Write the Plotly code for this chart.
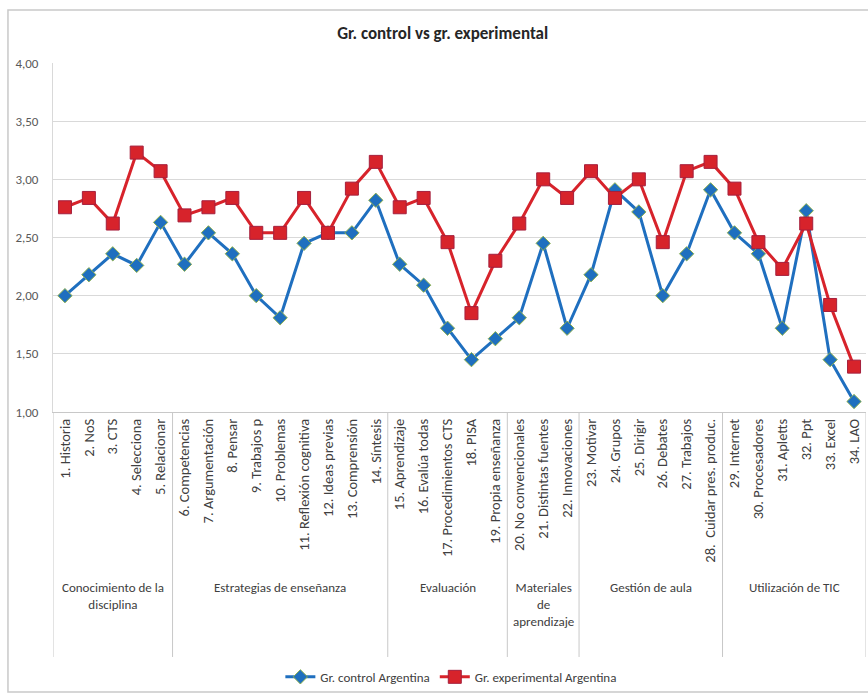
import plotly.graph_objects as go

labels = ["1. Historia", "2. NoS", "3. CTS", "4. Selecciona", "5. Relacionar",
          "6. Competencias", "7. Argumentación", "8. Pensar", "9. Trabajos p", "10. Problemas",
          "11. Reflexión cognitiva", "12. Ideas previas", "13. Comprensión", "14. Síntesis",
          "15. Aprendizaje", "16. Evalúa todas", "17. Procedimientos CTS", "18. PISA",
          "19. Propia enseñanza", "20. No convencionales", "21. Distintas fuentes",
          "22. Innovaciones", "23. Motivar", "24. Grupos", "25. Dirigir", "26. Debates",
          "27. Trabajos", "28.  Cuidar pres. produc.", "29. Internet", "30. Procesadores",
          "31. Apletts", "32. Ppt", "33. Excel", "34. LAO"]

control = [2.00, 2.18, 2.36, 2.26, 2.63, 2.27, 2.54, 2.36, 2.00, 1.81,
           2.45, 2.54, 2.54, 2.82, 2.27, 2.09, 1.72, 1.45, 1.63, 1.81,
           2.45, 1.72, 2.18, 2.91, 2.72, 2.00, 2.36, 2.91, 2.54, 2.36,
           1.72, 2.73, 1.45, 1.09]

experimental = [2.76, 2.84, 2.62, 3.23, 3.07, 2.69, 2.76, 2.84, 2.54, 2.54,
                2.84, 2.54, 2.92, 3.15, 2.76, 2.84, 2.46, 1.85, 2.30, 2.62,
                3.00, 2.84, 3.07, 2.84, 3.00, 2.46, 3.07, 3.15, 2.92, 2.46,
                2.23, 2.62, 1.92, 1.39]

groups = ["Conocimiento de la<br>disciplina", "Estrategias de enseñanza", "Evaluación",
          "Materiales<br>de<br>aprendizaje", "Gestión de aula", "Utilización de TIC"]
group_sizes = [5, 9, 5, 3, 6, 6]

FONT = "Carlito, 'Liberation Sans Narrow', Lato, sans-serif"

fig = go.Figure()
fig.add_trace(go.Scatter(
    x=labels, y=control, name="Gr. control Argentina", mode="lines+markers",
    line=dict(color="#1f6fbf", width=3),
    marker=dict(symbol="diamond", size=11, color="#1f6fbf",
                line=dict(color="#8db04e", width=1))))
fig.add_trace(go.Scatter(
    x=labels, y=experimental, name="Gr. experimental Argentina", mode="lines+markers",
    line=dict(color="#d7232b", width=3),
    marker=dict(symbol="square", size=13, color="#d7232b",
                line=dict(color="#a51f3c", width=1))))

shapes = []
start = 0
bounds = [-0.5]
for s in group_sizes:
    start += s
    bounds.append(start - 0.5)
for b in bounds:
    shapes.append(dict(type="line", xref="x", yref="paper", x0=b, x1=b, y0=0, y1=-0.702,
                       line=dict(color="#c8c8c8", width=1)))
shapes.append(dict(type="rect", xref="paper", yref="paper", x0=-0.0554, x1=1.02,
                   y0=-0.802, y1=1.152, line=dict(color="#c9c9c9", width=1.5),
                   layer="below"))

annotations = []
start = 0
for g, s in zip(groups, group_sizes):
    mid = start + (s - 1) / 2
    annotations.append(dict(x=mid, y=-0.475, xref="x", yref="paper", text=g,
                            showarrow=False, yanchor="top", xanchor="center",
                            font=dict(family=FONT, size=13, color="#404040")))
    start += s

fig.update_layout(
    width=868, height=694,
    margin=dict(l=53, r=2, t=63, b=282),
    paper_bgcolor="white", plot_bgcolor="white",
    separators=",.",
    font=dict(family=FONT, color="#404040"),
    title=dict(text="<b>Gr. control vs gr. experimental</b>", x=0.51, xref="container",
               xanchor="center", y=1 - 33 / 694, yanchor="middle",
               font=dict(family=FONT, size=17, color="#262626")),
    showlegend=True,
    legend=dict(orientation="h", x=0.49, xanchor="center", y=-0.759, yanchor="middle",
                font=dict(family=FONT, size=13, color="#404040"),
                itemwidth=30, bgcolor="rgba(0,0,0,0)"),
    shapes=shapes,
    annotations=annotations,
)
fig.update_xaxes(type="category", tickangle=-90, showgrid=False, showline=True,
                 linecolor="#c8c8c8", linewidth=1, ticks="", automargin=False,
                 tickfont=dict(family=FONT, size=14.5, color="#404040"), range=[-0.5, 33.5])
fig.update_yaxes(range=[1, 4], dtick=0.5, tickformat=".2f", showgrid=True,
                 gridcolor="#d9d9d9", gridwidth=1, zeroline=False, showline=True,
                 linecolor="#d9d9d9", ticks="", ticklabelstandoff=11, automargin=False,
                 tickfont=dict(family=FONT, size=13, color="#595959"))

fig.write_html("out.html")
